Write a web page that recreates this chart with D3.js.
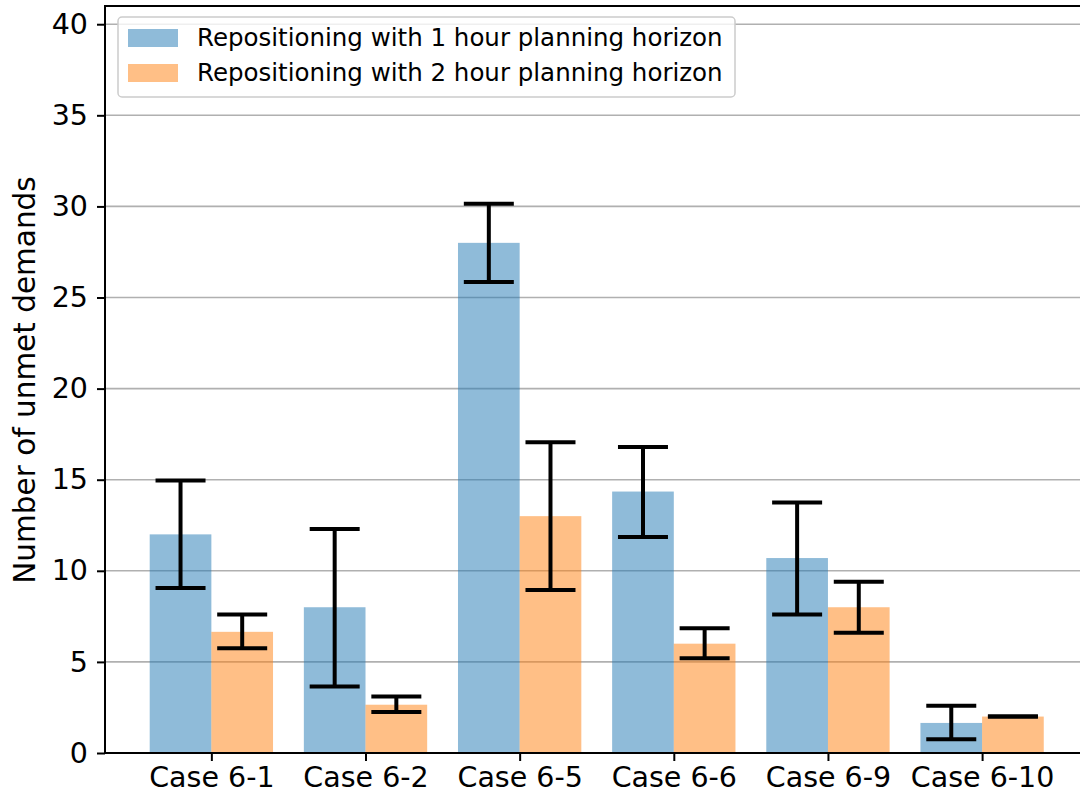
<!DOCTYPE html>
<html>
<head>
<meta charset="utf-8">
<script src="https://cdn.jsdelivr.net/npm/d3@7"></script>
<style>
  body { margin: 0; background: #fff; }
  svg text { font-family: "DejaVu Sans", sans-serif; }
</style>
</head>
<body>
<svg id="chart" width="1080" height="800"></svg>
<script>
// data
var cases = ["Case 6-1", "Case 6-2", "Case 6-5", "Case 6-6", "Case 6-9", "Case 6-10"];
var oneHour = [12.0, 8.0, 28.0, 14.35, 10.7, 1.65];
var oneHourLow = [9.05, 3.65, 25.85, 11.85, 7.6, 0.75];
var oneHourHigh = [14.95, 12.3, 30.15, 16.8, 13.75, 2.6];
var twoHour = [6.65, 2.65, 13.0, 6.0, 8.0, 2.0];
var twoHourLow = [5.75, 2.25, 8.95, 5.2, 6.6, 2.0];
var twoHourHigh = [7.6, 3.1, 17.05, 6.85, 9.4, 2.0];
var seriesNames = ["Repositioning with 1 hour planning horizon", "Repositioning with 2 hour planning horizon"];
var seriesColors = ["#1f77b4", "#ff7f0e"];
var yTicks = [0, 5, 10, 15, 20, 25, 30, 35, 40];

var svg = d3.select("#chart");
var plotL = 105, plotT = 6, plotB = 753, plotR = 1090;

var y = d3.scaleLinear().domain([0, 41]).range([plotB, plotT]);
// group centres sit at 0..5
var x = d3.scaleLinear().domain([-0.69, 5.7]).range([plotL, plotR]);
var barW = x(0.4) - x(0);

// grid
svg.append("g").selectAll("line").data(yTicks).enter().append("line")
  .attr("x1", plotL).attr("x2", 1080)
  .attr("y1", function(d){ return y(d); }).attr("y2", function(d){ return y(d); })
  .attr("stroke", "#b0b0b0").attr("stroke-width", 1.6);

var series = [
  {vals: oneHour, lo: oneHourLow, hi: oneHourHigh, off: -0.2},
  {vals: twoHour, lo: twoHourLow, hi: twoHourHigh, off: 0.2}
];

series.forEach(function(s, k){
  svg.append("g").selectAll("rect").data(s.vals).enter().append("rect")
    .attr("x", function(d, i){ return x(i + s.off) - barW / 2; })
    .attr("width", barW)
    .attr("y", function(d){ return y(d); })
    .attr("height", function(d){ return y(0) - y(d); })
    .attr("fill", seriesColors[k]).attr("fill-opacity", 0.5);
});

// error bars
series.forEach(function(s){
  var g = svg.append("g").attr("stroke", "#000").attr("stroke-width", 4);
  s.vals.forEach(function(d, i){
    var cx = x(i + s.off);
    g.append("line").attr("x1", cx).attr("x2", cx).attr("y1", y(s.lo[i])).attr("y2", y(s.hi[i]));
    g.append("line").attr("x1", cx - 25).attr("x2", cx + 25).attr("y1", y(s.lo[i])).attr("y2", y(s.lo[i]));
    g.append("line").attr("x1", cx - 25).attr("x2", cx + 25).attr("y1", y(s.hi[i])).attr("y2", y(s.hi[i]));
  });
});

// axes
var yAxis = d3.axisLeft(y).tickValues(yTicks).tickSize(8).tickPadding(9);
var gy = svg.append("g").attr("transform", "translate(" + plotL + ",0)").call(yAxis);
gy.attr("font-family", null).attr("font-size", null);
gy.select(".domain").remove();
gy.selectAll("line").attr("stroke-width", 2);
gy.selectAll("text").attr("font-size", 28.5).attr("fill", "#000");

var xAxis = d3.axisBottom(x).tickValues(d3.range(cases.length))
  .tickFormat(function(i){ return cases[i]; }).tickSize(8).tickPadding(6);
var gx = svg.append("g").attr("transform", "translate(0," + plotB + ")").call(xAxis);
gx.attr("font-family", null).attr("font-size", null);
gx.select(".domain").remove();
gx.selectAll("line").attr("stroke-width", 2);
gx.selectAll("text").attr("font-size", 28.5).attr("fill", "#000");

// spines
svg.append("line").attr("x1", plotL).attr("x2", plotL).attr("y1", plotT).attr("y2", plotB)
  .attr("stroke", "#000").attr("stroke-width", 2);
svg.append("line").attr("x1", plotL - 1).attr("x2", 1080).attr("y1", plotB).attr("y2", plotB)
  .attr("stroke", "#000").attr("stroke-width", 2);
svg.append("line").attr("x1", plotL - 1).attr("x2", 1080).attr("y1", plotT).attr("y2", plotT)
  .attr("stroke", "#000").attr("stroke-width", 2);

svg.append("text").attr("transform", "translate(35,380) rotate(-90)")
  .attr("text-anchor", "middle").attr("font-size", 29.5).text("Number of unmet demands");

// legend
var lg = svg.append("g").attr("transform", "translate(118,17)");
lg.append("rect").attr("width", 617).attr("height", 80).attr("rx", 4)
  .attr("fill", "#fff").attr("fill-opacity", 0.8).attr("stroke", "#ccc").attr("stroke-width", 1.5);
seriesNames.forEach(function(name, k){
  lg.append("rect").attr("x", 10).attr("y", 12 + k * 35).attr("width", 50).attr("height", 18)
    .attr("fill", seriesColors[k]).attr("fill-opacity", 0.5);
  lg.append("text").attr("x", 79).attr("y", 29 + k * 35).attr("font-size", 24.5).text(name);
});
</script>
</body>
</html>
